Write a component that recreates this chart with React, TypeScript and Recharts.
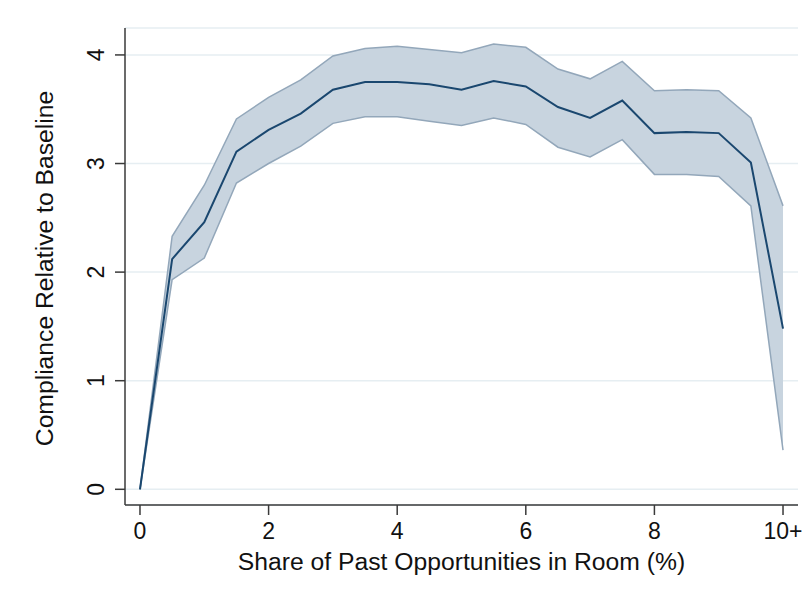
import React from 'react';
import { ComposedChart, Area, Line, XAxis, YAxis, CartesianGrid } from 'recharts';

// Share of past opportunities in room (%), binned at 0.5 pts; 10 is the "10+" bin
const share = [0, 0.5, 1, 1.5, 2, 2.5, 3, 3.5, 4, 4.5, 5, 5.5, 6, 6.5, 7, 7.5, 8, 8.5, 9, 9.5, 10];
// Point estimate of compliance relative to baseline
const estimate = [0, 2.12, 2.46, 3.11, 3.31, 3.46, 3.68, 3.75, 3.75, 3.73, 3.68, 3.76, 3.71, 3.52, 3.42, 3.58, 3.28, 3.29, 3.28, 3.01, 1.48];
// 95% confidence interval bounds
const lower = [0, 1.93, 2.13, 2.82, 3.0, 3.16, 3.37, 3.43, 3.43, 3.39, 3.35, 3.42, 3.36, 3.15, 3.06, 3.22, 2.9, 2.9, 2.88, 2.61, 0.36];
const upper = [0, 2.33, 2.8, 3.41, 3.61, 3.77, 3.99, 4.06, 4.08, 4.05, 4.02, 4.1, 4.07, 3.87, 3.78, 3.94, 3.67, 3.68, 3.67, 3.42, 2.61];

const xTicks = [0, 2, 4, 6, 8, 10];
const yTicks = [0, 1, 2, 3, 4];
const xTitle = 'Share of Past Opportunities in Room (%)';
const yTitle = 'Compliance Relative to Baseline';

const data = share.map((s, i) => ({
  share: s,
  estimate: estimate[i],
  ci: [lower[i], upper[i]],
}));

const FONT = '"Liberation Sans", Arial, Helvetica, sans-serif';
const AXIS = '#3a3a3a';

const xLabel = (v: number) => (v === 10 ? '10+' : String(v));

const XTick = (props: any) => {
  const { x, y, payload } = props;
  return (
    <text x={x} y={y + 22} textAnchor="middle" fontFamily={FONT} fontSize={23} fill="#111">
      {xLabel(payload.value)}
    </text>
  );
};

const YTick = (props: any) => {
  const { x, y, payload } = props;
  const bx = x - 9;
  return (
    <text
      x={bx}
      y={y}
      textAnchor="middle"
      transform={`rotate(-90, ${bx}, ${y})`}
      fontFamily={FONT}
      fontSize={23}
      fill="#111"
    >
      {payload.value}
    </text>
  );
};

const XTitle = (props: any) => {
  const { viewBox } = props;
  return (
    <text
      x={viewBox.x + viewBox.width / 2}
      y={viewBox.y + 65}
      textAnchor="middle"
      fontFamily={FONT}
      fontSize={24.7}
      fill="#111"
    >
      {xTitle}
    </text>
  );
};

const YTitle = (props: any) => {
  const { viewBox } = props;
  const cx = 53;
  const cy = viewBox.y + viewBox.height / 2 + 2;
  return (
    <text
      x={cx}
      y={cy}
      textAnchor="middle"
      transform={`rotate(-90, ${cx}, ${cy})`}
      fontFamily={FONT}
      fontSize={24.7}
      fill="#111"
    >
      {yTitle}
    </text>
  );
};

export default function App() {
  return (
    <div style={{ position: 'absolute', left: 0, top: 0, width: 810, height: 594, background: '#fff' }}>
      <ComposedChart
        width={810}
        height={594}
        data={data}
        margin={{ top: 28, right: 12, bottom: 0, left: 0 }}
      >
        <CartesianGrid vertical={false} stroke="#e6eef2" strokeWidth={1.5} />
        <XAxis
          dataKey="share"
          type="number"
          domain={[-0.233, 10.233]}
          ticks={xTicks}
          allowDataOverflow
          height={89}
          stroke={AXIS}
          strokeWidth={1.5}
          tickSize={10}
          tickLine={{ stroke: AXIS, strokeWidth: 1.5 }}
          tick={<XTick />}
          label={<XTitle />}
        />
        <YAxis
          type="number"
          domain={[-0.1446, 4.248]}
          ticks={yTicks}
          allowDataOverflow
          width={125}
          stroke={AXIS}
          strokeWidth={1.5}
          tickSize={10}
          tickLine={{ stroke: AXIS, strokeWidth: 1.5 }}
          tick={<YTick />}
          label={<YTitle />}
        />
        <Area
          dataKey="ci"
          type="linear"
          fill="#c8d4df"
          fillOpacity={1}
          stroke="#93a7ba"
          strokeWidth={1.5}
          isAnimationActive={false}
          dot={false}
          activeDot={false}
        />
        <Line
          dataKey="estimate"
          type="linear"
          stroke="#1a476f"
          strokeWidth={2}
          dot={false}
          activeDot={false}
          isAnimationActive={false}
        />
      </ComposedChart>
    </div>
  );
}
